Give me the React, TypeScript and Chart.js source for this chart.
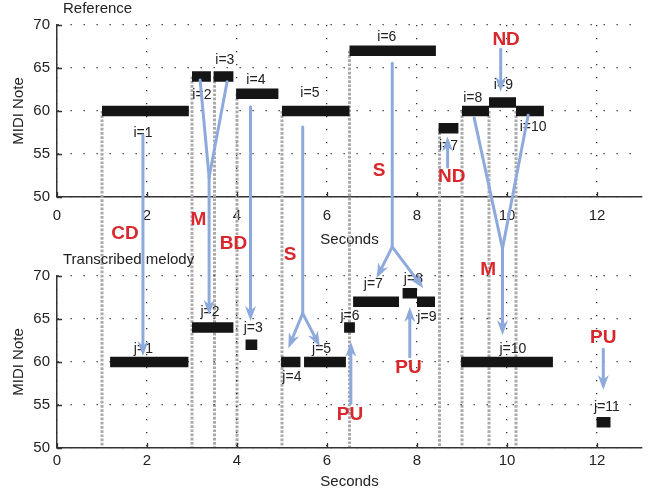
import React, { useEffect, useRef } from 'react';
import { Chart, registerables } from 'chart.js';

Chart.register(...registerables);

const FONT = "'Liberation Sans', Arial, Helvetica, sans-serif";

const xTicks = [0, 2, 4, 6, 8, 10, 12];
const yTicks = [50, 55, 60, 65, 70];

// Reference notes (top panel)
const refStart = [1.0, 3.0, 3.48, 3.98, 5.0, 6.5, 8.48, 9.0, 9.6, 10.2];
const refEnd = [2.93, 3.42, 3.92, 4.92, 6.5, 8.42, 8.92, 9.6, 10.2, 10.82];
const refNote = [60, 64, 64, 62, 60, 67, 58, 60, 61, 60];
const refLabels = ['i=1', 'i=2', 'i=3', 'i=4', 'i=5', 'i=6', 'i=7', 'i=8', 'i=9', 'i=10'];
const refLabelX = [1.91, 3.22, 3.73, 4.42, 5.62, 7.33, 8.7, 9.24, 9.92, 10.58];
const refLabelY = [57.48, 61.86, 65.93, 63.6, 62.06, 68.64, 55.93, 61.55, 63.02, 58.17];

// Transcribed notes (bottom panel)
const trStart = [1.18, 3.0, 4.19, 4.98, 5.49, 6.38, 6.58, 7.68, 8.0, 8.98, 11.99];
const trEnd = [2.92, 3.92, 4.45, 5.41, 6.42, 6.62, 7.6, 8.0, 8.4, 11.02, 12.3];
const trNote = [60, 64, 62, 60, 60, 64, 67, 68, 67, 60, 53];
const trLabels = ['j=1', 'j=2', 'j=3', 'j=4', 'j=5', 'j=6', 'j=7', 'j=8', 'j=9', 'j=10', 'j=11'];
const trLabelX = [1.92, 3.4, 4.36, 5.22, 5.88, 6.51, 7.03, 7.92, 8.22, 10.13, 12.22];
const trLabelY = [61.48, 65.85, 63.92, 58.29, 61.48, 65.35, 69.07, 69.62, 65.2, 61.48, 54.8];

// Note boundaries (gray dashed lines) : x and the reference note they start from
const boundaryX = [1.0, 3.0, 3.5, 4.0, 5.0, 6.5, 8.5, 9.0, 9.6, 10.2];
const boundaryNote = [60, 64, 64, 62, 60, 67, 58, 60, 60, 60];

// Error annotations
const errText = ['CD', 'M', 'BD', 'S', 'S', 'ND', 'ND', 'M', 'PU', 'PU', 'PU'];
const errPanel = ['t', 't', 't', 't', 't', 't', 't', 'b', 'b', 'b', 'b'];
const errX = [1.51, 3.14, 3.92, 5.18, 7.16, 9.98, 8.77, 9.58, 6.51, 7.81, 12.14];
const errY = [45.7, 47.33, 44.62, 43.26, 53.06, 68.34, 52.36, 70.77, 53.84, 59.38, 62.87];

// Arrow segments: [fromPanel, x1, y1, toPanel, x2, y2, hasHead]
const arrowSegs: [string, number, number, string, number, number, boolean][] = [
  ['t', 1.91, 57.2, 'b', 1.91, 60.7, true],
  ['t', 3.18, 63.6, 't', 3.38, 52.3, false],
  ['t', 3.78, 63.4, 't', 3.38, 52.3, false],
  ['t', 3.38, 52.3, 'b', 3.38, 65.47, true],
  ['t', 4.3, 60.5, 'b', 4.3, 64.77, true],
  ['t', 5.46, 58.14, 'b', 5.46, 65.66, false],
  ['b', 5.46, 65.66, 'b', 5.14, 61.6, true],
  ['b', 5.46, 65.66, 'b', 5.84, 61.8, true],
  ['t', 7.45, 65.55, 't', 7.45, 44.2, false],
  ['t', 7.45, 44.2, 'b', 7.1, 69.73, true],
  ['t', 7.45, 44.2, 'b', 8.14, 68.57, true],
  ['b', 7.84, 60.6, 'b', 7.84, 66.4, true],
  ['b', 6.53, 55.2, 'b', 6.53, 62.36, true],
  ['t', 9.86, 67.17, 't', 9.86, 62.24, true],
  ['t', 8.68, 53.5, 't', 8.68, 57.03, true],
  ['t', 9.27, 59.2, 't', 9.9, 44.03, false],
  ['t', 10.47, 59.5, 't', 9.9, 44.03, false],
  ['t', 9.9, 44.03, 'b', 9.9, 63.1, true],
  ['b', 12.14, 61.48, 'b', 12.14, 56.74, true],
];

const BAR_COLOR = '#151515';
const ARROW_COLOR = '#8eaadc';
const RED = '#d8282d';
const TEXT = '#222';

function noteSegments(s: number[], e: number[], n: number[]) {
  const pts: any[] = [];
  for (let i = 0; i < s.length; i++) {
    pts.push({ x: s[i], y: n[i] }, { x: e[i], y: n[i] }, { x: e[i], y: null });
  }
  return pts;
}

function makeOptions(pad: any, xHeight: number, xLabelPad: number): any {
  const grid = { color: '#333', lineWidth: 1.3, drawTicks: false };
  const border = { color: '#333', width: 1.5, dash: [1.3, 11.7] };
  return {
    responsive: false,
    animation: false,
    devicePixelRatio: 1,
    events: [],
    layout: { padding: pad },
    plugins: { legend: { display: false }, tooltip: { enabled: false }, title: { display: false } },
    scales: {
      x: {
        type: 'linear',
        min: 0,
        max: 13,
        afterBuildTicks: (s: any) => {
          s.ticks = xTicks.map((v) => ({ value: v }));
        },
        afterFit: (s: any) => {
          s.height = xHeight;
        },
        ticks: { padding: xLabelPad, font: { family: FONT, size: 15 }, color: TEXT, maxRotation: 0, autoSkip: false },
        grid,
        border,
        title: {
          display: true,
          text: 'Seconds',
          font: { family: FONT, size: 15 },
          color: TEXT,
          padding: { top: 0, bottom: 0 },
        },
      },
      y: {
        type: 'linear',
        min: 50,
        max: 70,
        afterBuildTicks: (s: any) => {
          s.ticks = yTicks.map((v) => ({ value: v }));
        },
        afterFit: (s: any) => {
          s.width = 57;
        },
        ticks: { padding: 7, font: { family: FONT, size: 15 }, color: TEXT },
        grid,
        border,
        title: {
          display: true,
          text: 'MIDI Note',
          font: { family: FONT, size: 15 },
          color: TEXT,
          padding: { top: 10, bottom: 0 },
        },
      },
    },
  };
}

function decorPlugin(title: string, labels: string[], lx: number[], ly: number[]) {
  return {
    id: 'decor',
    afterDatasetsDraw(chart: any) {
      const { ctx, scales } = chart;
      ctx.save();
      ctx.font = `14px ${FONT}`;
      ctx.fillStyle = TEXT;
      ctx.textAlign = 'center';
      ctx.textBaseline = 'middle';
      for (let i = 0; i < labels.length; i++) {
        ctx.fillText(labels[i], scales.x.getPixelForValue(lx[i]), scales.y.getPixelForValue(ly[i]));
      }
      ctx.restore();
    },
    afterDraw(chart: any) {
      const { ctx, scales, chartArea } = chart;
      ctx.save();
      // inward tick marks
      ctx.strokeStyle = '#333';
      ctx.lineWidth = 1.3;
      ctx.beginPath();
      for (const v of xTicks) {
        const p = Math.round(scales.x.getPixelForValue(v)) + 0.5;
        ctx.moveTo(p, chartArea.bottom);
        ctx.lineTo(p, chartArea.bottom - 5);
      }
      for (const v of yTicks) {
        const p = Math.round(scales.y.getPixelForValue(v)) + 0.5;
        ctx.moveTo(chartArea.left, p);
        ctx.lineTo(chartArea.left + 5, p);
      }
      ctx.stroke();
      // panel title
      ctx.font = `15px ${FONT}`;
      ctx.fillStyle = TEXT;
      ctx.textAlign = 'left';
      ctx.textBaseline = 'middle';
      ctx.fillText(title, chartArea.left + 6, chartArea.top - 16);
      ctx.restore();
    },
  };
}

function barDataset(s: number[], e: number[], n: number[]) {
  return {
    data: noteSegments(s, e, n),
    borderColor: BAR_COLOR,
    borderWidth: 10.5,
    borderCapStyle: 'butt',
    pointRadius: 0,
    spanGaps: false,
    tension: 0,
    fill: false,
  };
}

export default function App() {
  const topRef = useRef<HTMLCanvasElement>(null);
  const botRef = useRef<HTMLCanvasElement>(null);

  useEffect(() => {
    let topChart: any = null;
    let botChart: any = null;

    const pix = (panel: string, x: number, y: number) => {
      const c = panel === 't' ? topChart : botChart;
      return [c.scales.x.getPixelForValue(x), c.scales.y.getPixelForValue(y)];
    };

    const overlayPlugin = {
      id: 'overlay',
      afterDraw(chart: any) {
        if (!topChart) return;
        const { ctx } = chart;
        ctx.save();
        ctx.strokeStyle = ARROW_COLOR;
        ctx.fillStyle = ARROW_COLOR;
        ctx.lineWidth = 3;
        ctx.lineCap = 'round';
        ctx.lineJoin = 'round';
        for (const seg of arrowSegs) {
          const [p1x, p1y] = pix(seg[0], seg[1], seg[2]);
          const [p2x, p2y] = pix(seg[3], seg[4], seg[5]);
          const dx = p2x - p1x;
          const dy = p2y - p1y;
          const len = Math.hypot(dx, dy) || 1;
          const ux = dx / len;
          const uy = dy / len;
          const nx = -uy;
          const ny = ux;
          if (seg[6]) {
            const L = 15;
            const W = 5.5;
            const bx = p2x - ux * L * 0.7;
            const by = p2y - uy * L * 0.7;
            ctx.beginPath();
            ctx.moveTo(p1x, p1y);
            ctx.lineTo(bx, by);
            ctx.stroke();
            ctx.beginPath();
            ctx.moveTo(p2x, p2y);
            ctx.lineTo(p2x - ux * L + nx * W, p2y - uy * L + ny * W);
            ctx.lineTo(bx, by);
            ctx.lineTo(p2x - ux * L - nx * W, p2y - uy * L - ny * W);
            ctx.closePath();
            ctx.fill();
          } else {
            ctx.beginPath();
            ctx.moveTo(p1x, p1y);
            ctx.lineTo(p2x, p2y);
            ctx.stroke();
          }
        }
        ctx.font = `bold 19px ${FONT}`;
        ctx.fillStyle = RED;
        ctx.textAlign = 'center';
        ctx.textBaseline = 'middle';
        for (let i = 0; i < errText.length; i++) {
          const [x, y] = pix(errPanel[i], errX[i], errY[i]);
          ctx.fillText(errText[i], x, y);
        }
        ctx.restore();
      },
    };

    const dashPlugin = {
      id: 'bounds',
      beforeDatasetsDraw(chart: any) {
        if (!botChart) return;
        const { ctx, scales } = chart;
        const yEnd = botChart.scales.y.getPixelForValue(50);
        ctx.save();
        ctx.strokeStyle = '#aaaaaa';
        ctx.lineWidth = 3;
        ctx.setLineDash([2.7, 1.5]);
        for (let i = 0; i < boundaryX.length; i++) {
          const x = scales.x.getPixelForValue(boundaryX[i]);
          const y0 = scales.y.getPixelForValue(boundaryNote[i]);
          ctx.beginPath();
          ctx.moveTo(x, y0);
          ctx.lineTo(x, yEnd);
          ctx.stroke();
        }
        ctx.restore();
      },
    };

    botChart = new Chart(botRef.current as HTMLCanvasElement, {
      type: 'line',
      data: { datasets: [barDataset(trStart, trEnd, trNote) as any] },
      options: makeOptions({ top: 276, bottom: 2, left: 0, right: 13 }, 43, 4),
      plugins: [decorPlugin('Transcribed melody', trLabels, trLabelX, trLabelY), overlayPlugin],
    });

    topChart = new Chart(topRef.current as HTMLCanvasElement, {
      type: 'line',
      data: { datasets: [barDataset(refStart, refEnd, refNote) as any] },
      options: makeOptions({ top: 25, bottom: 244, left: 0, right: 13 }, 52, 10),
      plugins: [dashPlugin, decorPlugin('Reference', refLabels, refLabelX, refLabelY)],
    });

    botChart.draw();

    return () => {
      topChart.destroy();
      botChart.destroy();
      topChart = null;
      botChart = null;
    };
  }, []);

  return (
    <div style={{ position: 'absolute', left: 0, top: 0, width: 655, height: 493, background: '#fff' }}>
      <canvas ref={topRef} width={655} height={493} style={{ position: 'absolute', left: 0, top: 0 }} />
      <canvas ref={botRef} width={655} height={493} style={{ position: 'absolute', left: 0, top: 0 }} />
    </div>
  );
}
